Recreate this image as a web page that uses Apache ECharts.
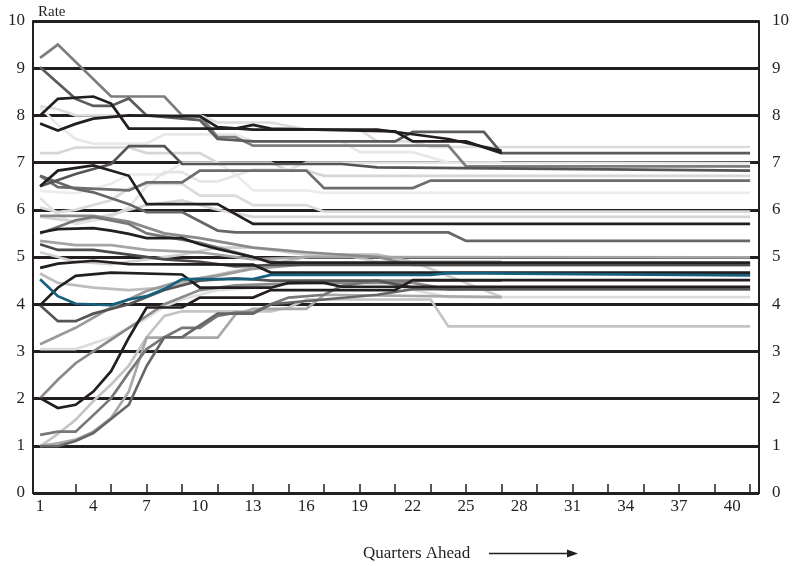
<!DOCTYPE html>
<html><head><meta charset="utf-8">
<script src="https://cdn.jsdelivr.net/npm/echarts@6/dist/echarts.min.js"></script>
<style>html,body{margin:0;padding:0;background:#fff}#c{width:793px;height:566px}</style>
</head><body><div id="c"></div>
<script>
// ---- axis values ----
const yTickValues = [0,1,2,3,4,5,6,7,8,9,10];
const xTickLabels = [1,4,7,10,13,16,19,22,25,28,31,34,37,40];
const xTickMarks = [3,5,7,9,11,13,15,17,19,21,23,25,27,29,31,33,35,37,39,41];
const yAxisTitle = 'Rate';
const xAxisTitle = 'Quarters Ahead';

// ---- series (quarter, rate) vertices ----
const t1 = [[1,9.22],[2,9.5],[5,8.4],[8,8.4],[9,8.0],[10,8.0],[11,7.54],[12,7.54],[13,7.36],[24,7.36],[25,6.92],[41,6.92]];
const t2 = [[1,9.02],[3,8.35],[4,8.2],[5,8.2],[6,8.36],[7,8.0],[10,7.9],[11,7.5],[13,7.45],[21,7.45],[22,7.65],[26,7.65],[27,7.2],[41,7.2]];
const t3 = [[1,8.0],[2,8.35],[4,8.4],[5,8.25],[6,7.72],[12,7.72],[13,7.8],[14,7.72],[21,7.66],[22,7.45],[25,7.45],[27,7.2]];
const t4 = [[1,7.83],[2,7.68],[3,7.82],[4,7.93],[6,8.0],[10,7.98],[11,7.75],[13,7.7],[20,7.7],[22,7.6],[24,7.5],[27,7.25]];
const t5 = [[1,8.2],[2,8.13],[3,8.0],[10,8.0],[11,7.85],[14,7.85],[16,7.7],[19,7.7],[20,7.45],[22,7.45],[23,7.33],[41,7.33]];
const t6 = [[1,8.17],[2,7.8],[3,7.5],[4,7.4],[7,7.4],[8,7.6],[12,7.6],[13,7.45],[18,7.45],[19,7.22],[22,7.22],[24,7.0],[41,6.99]];
const t7 = [[1,7.2],[2,7.2],[3,7.32],[6,7.32],[7,7.2],[10,7.2],[11,7.0],[14,7.0],[15,6.83],[16,6.83],[17,6.72],[41,6.72]];
const t8 = [[1,6.5],[3,6.76],[5,6.97],[6,7.35],[8,7.35],[9,6.97],[18,6.97],[20,6.9],[41,6.83]];
const t9 = [[1,6.5],[2,6.83],[4,6.94],[6,6.72],[7,6.12],[11,6.12],[13,5.7],[41,5.7]];
const t10 = [[1,6.72],[2,6.48],[6,6.41],[7,6.58],[9,6.58],[10,6.83],[16,6.83],[17,6.46],[22,6.46],[23,6.62],[41,6.62]];
const t11 = [[1,6.4],[3,6.35],[5,6.55],[6,6.75],[8,6.75],[9,7.0],[11,7.0],[12,6.75],[13,6.41],[16,6.41],[17,6.36],[41,6.36]];
const m1 = [[1,6.72],[3,6.44],[4,6.37],[6,6.12],[7,5.95],[9,5.95],[11,5.56],[12,5.52],[24,5.52],[25,5.34],[41,5.34]];
const m2 = [[1,6.05],[2,5.95],[3,6.0],[5,6.2],[6,6.45],[7,6.55],[9,6.55],[10,6.3],[12,6.3],[13,6.1],[16,6.1],[17,5.96],[41,5.96]];
const m3 = [[1,5.85],[3,5.75],[5,5.9],[7,6.1],[9,6.2],[11,6.0],[13,5.85],[41,5.85]];
const m4 = [[1,5.87],[4,5.87],[6,5.75],[8,5.5],[10,5.4],[13,5.2],[16,5.1],[20,5.0],[22,4.83],[41,4.83]];
const m5 = [[1,5.52],[2,5.59],[4,5.61],[5,5.56],[6,5.49],[7,5.4],[9,5.4],[10,5.27],[11,5.17],[13,5.0],[14,4.88],[41,4.88]];
const m6 = [[1,5.5],[3,5.78],[4,5.85],[6,5.7],[7,5.5],[10,5.3],[12,5.1],[14,4.9],[16,4.85],[41,4.85]];
const m7 = [[1,5.34],[3,5.25],[5,5.25],[7,5.15],[10,5.1],[13,4.95],[16,5.0],[41,4.99]];
const m8 = [[1,5.27],[2,5.15],[4,5.15],[6,5.05],[8,4.95],[10,4.9],[12,4.8],[14,4.83],[41,4.83]];
const m9 = [[1,5.1],[3,4.9],[5,4.85],[7,4.95],[9,5.05],[11,5.2],[13,5.2],[16,5.05],[18,5.05],[20,4.9],[22,4.9],[24,4.6],[27,4.15]];
const m10 = [[1,4.77],[2,4.86],[4,4.92],[6,4.85],[13,4.84],[14,4.67],[41,4.67]];
const m11 = [[1,4.65],[2,4.45],[4,4.35],[6,4.3],[8,4.35],[10,4.55],[12,4.7],[14,4.85],[16,5.0],[18,5.05],[20,5.05],[22,4.9],[27,4.9]];
const m12 = [[1,6.25],[2,5.9],[3,5.7],[5,5.85],[6,6.05],[7,6.5],[8,6.8],[9,6.8],[10,6.6],[11,6.6],[13,6.85],[15,6.85],[16,7.0],[27,7.0]];
const l2 = [[1,3.98],[2,4.35],[3,4.6],[5,4.67],[9,4.63],[10,4.35],[14,4.35],[15,4.45],[17,4.45],[18,4.37],[41,4.37]];
const l3 = [[1,3.98],[2,3.64],[3,3.64],[4,3.8],[6,4.0],[8,4.3],[10,4.5],[12,4.55],[14,4.5],[20,4.5],[22,4.35],[24,4.32],[41,4.32]];
const l4 = [[1,3.15],[3,3.5],[5,3.93],[7,4.28],[9,4.5],[11,4.6],[13,4.75],[16,4.85],[27,4.85]];
const l5 = [[1,3.05],[3,3.05],[5,3.3],[6,3.5],[7,3.7],[8,3.95],[9,4.1],[11,4.3],[13,4.35],[16,4.5],[20,4.5],[22,4.3],[24,4.15],[41,4.15]];
const l6 = [[1,2.01],[2,2.4],[3,2.75],[4,3.0],[5,3.25],[6,3.5],[7,3.75],[8,4.0],[10,4.3],[12,4.4],[16,4.45],[22,4.45],[24,4.32],[41,4.32]];
const l7 = [[1,2.01],[2,1.8],[3,1.87],[4,2.15],[5,2.58],[6,3.29],[7,3.93],[9,3.93],[10,4.14],[13,4.14],[14,4.3],[21,4.3],[22,4.51],[41,4.51]];
const l8 = [[1,1.23],[2,1.3],[3,1.3],[4,1.65],[5,2.01],[6,2.55],[7,3.05],[8,3.3],[9,3.5],[10,3.5],[11,3.75],[12,3.82],[13,3.82],[14,4.0],[15,4.14],[17,4.2],[18,4.39],[20,4.5],[27,4.5]];
const l9 = [[1,0.99],[2,1.25],[3,1.55],[4,1.95],[5,2.3],[6,2.7],[7,3.3],[8,3.75],[9,3.85],[14,3.85],[15,3.93],[16,4.1],[23,4.1],[24,3.53],[41,3.53]];
const l10 = [[1,0.99],[2,0.99],[3,1.1],[4,1.27],[6,1.87],[7,2.69],[8,3.3],[9,3.3],[10,3.55],[11,3.8],[13,3.8],[14,4.0],[20,4.2],[22,4.32],[27,4.32]];
const l11 = [[1,1.0],[2,1.05],[3,1.13],[4,1.3],[5,1.59],[6,2.15],[7,3.29],[11,3.29],[12,3.78],[13,3.9],[16,3.9],[17,4.2],[27,4.15]];
const blue = [[1,4.53],[2,4.17],[3,4.01],[5,3.98],[6,4.1],[7,4.17],[8,4.32],[9,4.53],[13,4.53],[14,4.62],[23,4.62],[24,4.66],[41,4.61]];

// ---- drawing order and colours ----
const seriesList = [
  ['t7',t7,'#d6d6d6'],['t11',t11,'#ececec'],['m12',m12,'#e4e4e4'],['t6',t6,'#e8e8e8'],['t5',t5,'#dcdcdc'],
  ['m2',m2,'#dadada'],['m3',m3,'#d5d5d5'],['l5',l5,'#dddddd'],['l9',l9,'#c4c4c4'],['m9',m9,'#cfcfcf'],
  ['m11',m11,'#bdbdbd'],['l11',l11,'#a8a8a8'],['l4',l4,'#9a9a9a'],['m7',m7,'#a5a5a5'],['l6',l6,'#8a8a8a'],
  ['m4',m4,'#8a8a8a'],['t1',t1,'#7d7d7d'],['t10',t10,'#6d6d6d'],['m6',m6,'#777777'],['l8',l8,'#777777'],
  ['l10',l10,'#666666'],['m1',m1,'#666666'],['t2',t2,'#5b5b5b'],['t8',t8,'#555555'],['l3',l3,'#555555'],
  ['m8',m8,'#4a4a4a'],['t3',t3,'#231f20'],['t4',t4,'#231f20'],['t9',t9,'#231f20'],['m5',m5,'#231f20'],
  ['m10',m10,'#231f20'],['l2',l2,'#231f20'],['l7',l7,'#231f20'],['blue',blue,'#16607e']
];

const FONT = '"Liberation Serif", "DejaVu Serif", serif';
const chart = echarts.init(document.getElementById('c'), null, {renderer:'canvas'});
const yBase = {
  type:'value', min:0, max:10, interval:1,
  axisLine:{show:true, lineStyle:{color:'#231f20', width:2}},
  axisTick:{show:false},
  axisLabel:{color:'#231f20', fontFamily:FONT, fontSize:17}
};
chart.setOption({
  animation:false,
  backgroundColor:'#ffffff',
  grid:{left:33, right:34, top:21, bottom:73, containLabel:false},
  xAxis:{
    type:'value', min:0.6, max:41.5,
    axisLine:{show:true, onZero:false, lineStyle:{color:'#231f20', width:2}},
    axisTick:{show:true, inside:true, length:9, customValues:xTickMarks, lineStyle:{color:'#231f20', width:1.5}},
    axisLabel:{customValues:xTickLabels, color:'#231f20', fontFamily:FONT, fontSize:17, margin:5},
    splitLine:{show:false}
  },
  yAxis:[
    Object.assign({}, yBase, {position:'left', axisLabel:Object.assign({}, yBase.axisLabel, {margin:8}),
      splitLine:{show:true, lineStyle:{color:'#231f20', width:3}}}),
    Object.assign({}, yBase, {position:'right', axisLabel:Object.assign({}, yBase.axisLabel, {margin:13}),
      splitLine:{show:false}})
  ],
  graphic:[
    {type:'text', left:38, top:5, style:{text:yAxisTitle, font:'15px '+FONT, fill:'#231f20'}},
    {type:'text', left:363, top:545, style:{text:xAxisTitle, font:'17px '+FONT, fill:'#231f20'}},
    {type:'line', shape:{x1:489, y1:553.5, x2:570, y2:553.5}, style:{stroke:'#231f20', lineWidth:1.3}},
    {type:'polygon', shape:{points:[[567,549.5],[578,553.5],[567,557.5]]}, style:{fill:'#231f20'}}
  ],
  series: seriesList.map(([name,data,color]) => ({
    name, type:'line', data, yAxisIndex:0, showSymbol:false, symbol:'none',
    lineStyle:{color, width:2.7, join:'miter'}, emphasis:{disabled:true}, silent:true
  }))
});
</script></body></html>
